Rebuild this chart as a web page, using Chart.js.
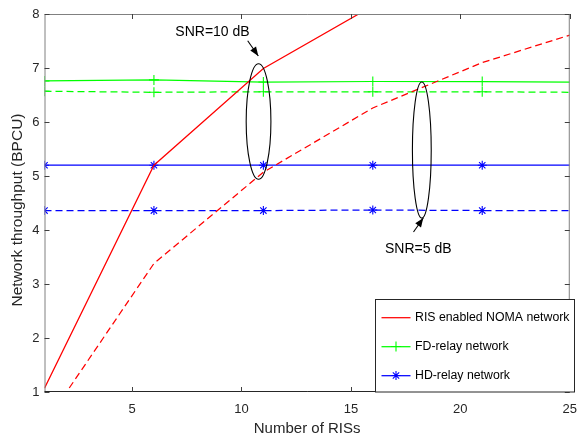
<!DOCTYPE html>
<html>
<head>
<meta charset="utf-8">
<script src="https://cdn.jsdelivr.net/npm/chart.js@4.4.1/dist/chart.umd.min.js"></script>
<style>
  html, body { margin: 0; padding: 0; background: #fff; }
  #wrap { width: 579px; height: 436px; }
</style>
</head>
<body>
<div id="wrap"><canvas id="chart" width="579" height="436"></canvas></div>
<script>
// number of RISs
const risX = [1, 6, 11, 16, 21, 25];
const risSolidX = [1, 6, 11, 16];

// RIS enabled NOMA network (solid = SNR 10 dB, dashed = SNR 5 dB)
const risSolid = [1.07, 5.2, 6.99, 8.15];
const risDashed = [0.4, 3.38, 5.07, 6.26, 7.1, 7.61];

// FD-relay network
const fdSolid = [6.76, 6.78, 6.74, 6.75, 6.75, 6.74];
const fdDashed = [6.57, 6.55, 6.56, 6.56, 6.56, 6.55];

// HD-relay network
const hdSolid = [5.2, 5.2, 5.2, 5.2, 5.2, 5.2];
const hdDashed = [4.36, 4.36, 4.36, 4.37, 4.36, 4.36];

const xTicks = [5, 10, 15, 20, 25];
const yTicks = [1, 2, 3, 4, 5, 6, 7, 8];

const legendLabels = ['RIS enabled NOMA network', 'FD-relay network', 'HD-relay network'];
const yTitle = 'Network throughput (BPCU)';

const FONT = '"Liberation Sans", Arial, Helvetica, sans-serif';
const TXT = '#262626';
const LW = 1.25;

const pts = (xs, ys) => xs.map((x, i) => ({ x: x, y: ys[i] }));
// markers on every point except the last one (x = 25)
const markRadius = (n, r) => Array.from({ length: n }, (_, i) => (i === n - 1 ? 0 : r));

function series(label, xs, ys, color, dashed, style, r) {
    return {
        label: label,
        data: pts(xs, ys),
        borderColor: color,
        backgroundColor: color,
        borderWidth: LW,
        borderDash: dashed ? [7, 4] : [],
        pointStyle: style || 'circle',
        pointRadius: style ? markRadius(xs.length, r) : 0,
        pointBorderWidth: 1.1,
        pointBorderColor: color,
        pointHoverRadius: 0,
        tension: 0,
        fill: false
    };
}

// ellipses (data units) and arrows / labels (pixels)
const notes = [
    { text: 'SNR=10 dB', cx: 10.78, cy: 6.01, rx: 0.565, ry: 1.07,
      tx: 212.5, ty: 32, ax0: 247.7, ay0: 40.7, ax1: 258.3, ay1: 56 },
    { text: 'SNR=5 dB', cx: 18.24, cy: 5.48, rx: 0.43, ry: 1.26,
      tx: 418.3, ty: 249, ax0: 413.5, ay0: 232, ax1: 423.3, ay1: 218 }
];

const framePlugin = {
    id: 'frame',
    afterDatasetsDraw(chart) {
        const { ctx, chartArea: a, scales } = chart;
        const xs = scales.x, ys = scales.y;
        ctx.save();
        ctx.setLineDash([]);

        // ellipses
        ctx.strokeStyle = '#000';
        ctx.lineWidth = 1.1;
        notes.forEach(n => {
            const cx = xs.getPixelForValue(n.cx), cy = ys.getPixelForValue(n.cy);
            const rx = xs.getPixelForValue(n.cx + n.rx) - cx;
            const ry = cy - ys.getPixelForValue(n.cy + n.ry);
            ctx.beginPath();
            ctx.ellipse(cx, cy, rx, ry, 0, 0, Math.PI * 2);
            ctx.stroke();
        });

        // arrows + labels
        notes.forEach(n => {
            const ang = Math.atan2(n.ay1 - n.ay0, n.ax1 - n.ax0);
            ctx.beginPath();
            ctx.moveTo(n.ax0, n.ay0);
            ctx.lineTo(n.ax1, n.ay1);
            ctx.stroke();
            const L = 9, W = 3.5;
            const bx = n.ax1 - L * Math.cos(ang), by = n.ay1 - L * Math.sin(ang);
            ctx.beginPath();
            ctx.moveTo(n.ax1, n.ay1);
            ctx.lineTo(bx + W * Math.sin(ang), by - W * Math.cos(ang));
            ctx.lineTo(bx - W * Math.sin(ang), by + W * Math.cos(ang));
            ctx.closePath();
            ctx.fillStyle = '#000';
            ctx.fill();
            ctx.font = '14px ' + FONT;
            ctx.textAlign = 'center';
            ctx.textBaseline = 'middle';
            ctx.fillText(n.text, n.tx, n.ty);
        });

        // axes box
        ctx.lineWidth = 1;
        ctx.strokeStyle = '#808080';
        ctx.beginPath();
        ctx.moveTo(a.left + 0.5, a.bottom);
        ctx.lineTo(a.left + 0.5, a.top + 0.5);
        ctx.lineTo(a.right - 0.5, a.top + 0.5);
        ctx.lineTo(a.right - 0.5, a.bottom);
        ctx.stroke();
        ctx.strokeStyle = TXT;
        ctx.beginPath();
        ctx.moveTo(a.left, a.bottom - 0.5);
        ctx.lineTo(a.right, a.bottom - 0.5);
        ctx.stroke();

        // inward ticks
        const tl = 5;
        ctx.strokeStyle = '#404040';
        ctx.beginPath();
        xTicks.forEach(v => {
            const p = Math.round(xs.getPixelForValue(v)) + 0.5;
            ctx.moveTo(p, a.bottom); ctx.lineTo(p, a.bottom - tl);
            ctx.moveTo(p, a.top); ctx.lineTo(p, a.top + tl);
        });
        yTicks.forEach(v => {
            const p = Math.round(ys.getPixelForValue(v)) + 0.5;
            ctx.moveTo(a.left, p); ctx.lineTo(a.left + tl, p);
            ctx.moveTo(a.right, p); ctx.lineTo(a.right - tl, p);
        });
        ctx.stroke();

        // y axis title
        ctx.save();
        ctx.translate(18, 210);
        ctx.rotate(-Math.PI / 2);
        ctx.fillStyle = TXT;
        ctx.font = '15.5px ' + FONT;
        ctx.textAlign = 'center';
        ctx.textBaseline = 'middle';
        ctx.fillText(yTitle, 0, 0);
        ctx.restore();

        // legend
        const lx = 375.5, ly = 299.5, lw = 199, lh = a.bottom - ly;
        ctx.fillStyle = '#fff';
        ctx.fillRect(lx, ly, lw, lh);
        ctx.strokeStyle = '#262626';
        ctx.strokeRect(lx, ly, lw, lh);
        const rows = [317.5, 346.5, 375.5];
        const cols = ['#ff0000', '#00ff00', '#0000ff'];
        const marks = [null, 'cross', 'star'];
        rows.forEach((ry, i) => {
            ctx.strokeStyle = cols[i];
            ctx.lineWidth = LW;
            ctx.beginPath();
            ctx.moveTo(381.5, ry + 0.2); ctx.lineTo(410.5, ry + 0.2);
            ctx.stroke();
            if (marks[i]) {
                ctx.lineWidth = 1.1;
                Chart.helpers.drawPoint(ctx, { pointStyle: marks[i], radius: marks[i] === 'cross' ? 5 : 4.5, borderWidth: 1.1 }, 396, ry);
            }
            ctx.fillStyle = '#000';
            ctx.font = '12.3px ' + FONT;
            ctx.textAlign = 'left';
            ctx.textBaseline = 'middle';
            ctx.fillText(legendLabels[i], 415, ry);
        });
        ctx.restore();
    }
};

const chart = new Chart(document.getElementById('chart'), {
    type: 'line',
    data: {
        datasets: [
            series('RIS enabled NOMA network', risSolidX, risSolid, '#ff0000', false),
            series('RIS enabled NOMA network 5 dB', risX, risDashed, '#ff0000', true),
            series('FD-relay network', risX, fdSolid, '#00ff00', false, 'cross', 5),
            series('FD-relay network 5 dB', risX, fdDashed, '#00ff00', true, 'cross', 5),
            series('HD-relay network', risX, hdSolid, '#0000ff', false, 'star', 4.5),
            series('HD-relay network 5 dB', risX, hdDashed, '#0000ff', true, 'star', 4.5)
        ]
    },
    options: {
        responsive: false,
        animation: false,
        devicePixelRatio: 1,
        layout: { padding: { top: 14, right: 3, left: 0, bottom: 0 } },
        plugins: {
            legend: { display: false },
            tooltip: { enabled: false }
        },
        scales: {
            x: {
                type: 'linear',
                min: 1,
                max: 25,
                afterBuildTicks: s => { s.ticks = xTicks.map(v => ({ value: v })); },
                afterFit: s => { s.height = 44; },
                grid: { display: false },
                border: { display: false },
                ticks: { color: TXT, font: { family: FONT, size: 13 }, padding: 2, maxRotation: 0 },
                title: { display: true, text: 'Number of RISs', color: TXT, font: { family: FONT, size: 15 }, padding: { top: 0, bottom: -2 } }
            },
            y: {
                type: 'linear',
                min: 1,
                max: 8,
                afterBuildTicks: s => { s.ticks = yTicks.map(v => ({ value: v })); },
                afterFit: s => { s.width = 44.5; },
                grid: { display: false, drawTicks: false },
                border: { display: false },
                ticks: { color: TXT, font: { family: FONT, size: 13 }, padding: 5 },
                title: { display: false }
            }
        }
    },
    plugins: [framePlugin]
});
</script>
</body>
</html>
